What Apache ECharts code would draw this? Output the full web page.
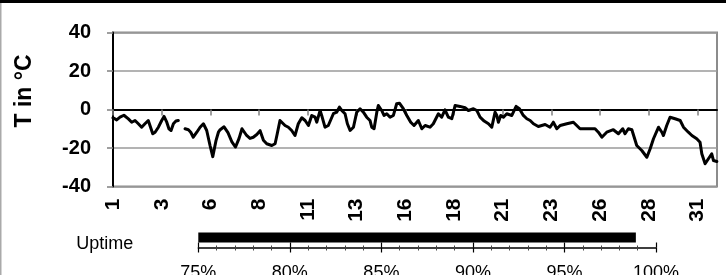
<!DOCTYPE html>
<html>
<head>
<meta charset="utf-8">
<script src="https://cdn.jsdelivr.net/npm/echarts@6/dist/echarts.min.js"></script>
<style>
html, body { margin: 0; padding: 0; background: #fff; }
#chart { width: 726px; height: 275px; }
</style>
</head>
<body>
<div id="chart"></div>
<script>
// day-of-month labels shown every 2.5 days
var dayTicks = ['1', '3', '6', '8', '11', '13', '16', '18', '21', '23', '26', '28', '31']
// elapsed days since the 1st, and temperature (null = gap)
var dayPos = [0, 0.19, 0.36, 0.56, 0.79, 0.96, 1.13, 1.30, 1.47, 1.64, 1.81, 2.04, 2.16, 2.33, 2.50, 2.62, 2.76, 2.87, 2.98, 3.10,
    3.23, 3.35, 3.52, 3.70, 3.87, 3.99, 4.12, 4.30, 4.47, 4.64, 4.81, 4.98, 5.12, 5.29, 5.41, 5.50, 5.70, 5.90, 6.11, 6.29,
    6.47, 6.62, 6.86, 7.03, 7.20, 7.38, 7.55, 7.72, 7.89, 8.15, 8.32, 8.43, 8.57, 8.66, 8.83, 9.00, 9.17, 9.34, 9.51, 9.69,
    9.86, 10.03, 10.20, 10.37, 10.46, 10.63, 10.71, 10.88, 11.05, 11.31, 11.48, 11.62, 11.74, 11.91, 12.03, 12.17, 12.34, 12.51, 12.68, 12.85,
    13.02, 13.19, 13.28, 13.40, 13.54, 13.62, 13.79, 13.91, 14.05, 14.22, 14.39, 14.56, 14.70, 14.90, 15.08, 15.28, 15.45, 15.67, 15.85, 16.02,
    16.27, 16.44, 16.70, 16.87, 17.04, 17.21, 17.39, 17.56, 17.81, 18.07, 18.24, 18.50, 18.67, 18.84, 19.05, 19.27, 19.44, 19.61, 19.70, 19.78,
    19.90, 20.04, 20.21, 20.47, 20.69, 20.86, 21.06, 21.24, 21.41, 21.58, 21.83, 22.18, 22.43, 22.60, 22.78, 22.95, 23.29, 23.63, 23.97, 24.32,
    24.74, 24.91, 25.09, 25.34, 25.68, 25.94, 26.16, 26.28, 26.45, 26.63, 26.75, 26.88, 27.14, 27.40, 27.57, 27.74, 28.00, 28.17, 28.25, 28.42,
    28.59, 28.85, 29.11, 29.28, 29.53, 29.71, 29.96, 30.13, 30.22, 30.39, 30.56, 30.73, 30.82, 30.99]
var tempC = [-4.3, -5.4, -4, -3, -4.9, -6.6, -5.7, -7.4, -9.2, -7.4, -5.7, -12.6, -11.8, -9.2, -5.7, -3.6, -6.6, -10, -10.9, -7.4,
    -6, -5.7, null, -10, -10.5, -11.8, -14.4, -11.8, -9.2, -7.4, -10.9, -18.7, -24.5, -16, -11.8, -10.5, -9, -12, -17, -19.5,
    -15, -10, -13.5, -15, -14.4, -13, -11, -16, -17.8, -18.7, -17.8, -12.6, -5.7, -4.8, -8.3, -9.2, -10.9, -13.5, -7.4, -4.3,
    -5.7, -8.3, -3.1, -4, -6.6, -0.5, -3.1, -9.2, -8.3, -2.2, -1.4, 1.2, -0.5, -2.2, -7.4, -10.9, -9.2, -1.4, 0.4, -1.4,
    -4, -5.7, -9.2, -10, -1.4, 2.1, -0.5, -3.1, -2.2, -4, -3.1, 3, 3.3, 0.4, -3.1, -6.6, -8.3, -5.7, -10, -8.3,
    -9.2, -7.4, -2.2, -4, -0.2, -4, -4.8, 2.1, 1.6, 0.9, -0.5, 0.4, -0.5, -4, -6, -7.4, -9.2, -1.4, -3.1, -6.6,
    -3.1, -4, -2.2, -3.1, 1.6, 0.4, -3.1, -4.8, -5.7, -7.4, -8.8, -7.8, -9.2, -6.6, -10, -8.3, -7.4, -6.6, -10, -10,
    -10, -11.8, -14.4, -11.8, -10.5, -12.6, -10, -12.6, -10, -10.5, -14.4, -18.7, -21.3, -24.8, -20.4, -15.2, -9.2, -11.8, -13.5, -8.3,
    -4, -4.8, -5.7, -9.2, -11.8, -13.5, -15.2, -17, -23, -28.2, -25.6, -23, -26.5, -27]
var tempTicks = [-40, -20, 0, 20, 40]
var uptimeLabel = ['Uptime']
var uptimeValue = [98.9]

var FONT = '"Liberation Sans", Arial, sans-serif'
var dom = document.getElementById('chart')
var chart = echarts.init(dom, null, { renderer: 'canvas' })

var linePoints = dayPos.map(function (d, i) { return [d, tempC[i]] })
var dayTickPos = dayTicks.map(function (t, i) { return i * 2.5 })

var option = {
    backgroundColor: '#fff',
    animation: false,
    graphic: [
        { type: 'rect', shape: { x: 0, y: 0, width: 726, height: 3 }, style: { fill: '#000' } },
        { type: 'rect', shape: { x: 0, y: 3, width: 1.5, height: 272 }, style: { fill: '#aaa' } },
        {
            type: 'text', x: 25, y: 91, rotation: Math.PI / 2,
            style: { text: 'T in °C', font: 'bold 23px ' + FONT, fill: '#000', align: 'center', verticalAlign: 'middle' }
        }
    ],
    grid: [
        { left: 113, top: 32.5, right: 9, bottom: 88.5, outerBoundsMode: 'none', show: true, borderColor: '#8c8c8c', borderWidth: 2, backgroundColor: 'transparent' },
        { left: 198.3, right: 70, top: 227.5, height: 20, outerBoundsMode: 'none' }
    ],
    xAxis: [
        {
            gridIndex: 0, type: 'value', min: 0, max: 31, position: 'bottom',
            axisLine: { lineStyle: { color: '#000', width: 2 } },
            axisTick: { customValues: dayTickPos, length: 6, lineStyle: { color: '#808080', width: 1.5 } },
            axisLabel: {
                customValues: dayTickPos, rotate: 90, margin: 12,
                fontFamily: FONT, fontWeight: 'bold', fontSize: 21, color: '#000',
                formatter: function (v) { return dayTicks[Math.round(v / 2.5)] }
            },
            splitLine: { show: false }
        },
        {
            gridIndex: 1, type: 'value', min: 75, max: 100, interval: 5, position: 'bottom',
            axisLine: { show: true, onZero: false, lineStyle: { color: '#000', width: 1.5 } },
            axisTick: { show: true, length: 5, lineStyle: { color: '#000', width: 1.2 } },
            minorTick: { show: true, splitNumber: 5, length: 3, lineStyle: { color: '#444', width: 1 } },
            axisLabel: { margin: 17, fontFamily: FONT, fontSize: 18, color: '#000', formatter: '{value}%' },
            splitLine: { show: false }
        },
        {
            gridIndex: 1, type: 'value', min: 75, max: 100, interval: 5, position: 'bottom',
            axisLine: { show: false, onZero: false },
            axisTick: { show: true, inside: true, length: 5, lineStyle: { color: '#000', width: 1.2 } },
            minorTick: { show: true, splitNumber: 5, length: 2, lineStyle: { color: '#444', width: 1 } },
            axisLabel: { show: false },
            splitLine: { show: false }
        }
    ],
    yAxis: [
        {
            gridIndex: 0, type: 'value', min: tempTicks[0], max: tempTicks[tempTicks.length - 1], interval: 20,
            axisLine: { show: true, lineStyle: { color: '#000', width: 2 } },
            axisTick: { show: true, length: 6, lineStyle: { color: '#808080', width: 1.5 } },
            axisLabel: { margin: 22, fontFamily: FONT, fontWeight: 'bold', fontSize: 20, color: '#000' },
            splitLine: { show: true, lineStyle: { color: '#9a9a9a', width: 1.5 } }
        },
        {
            gridIndex: 1, type: 'category', data: uptimeLabel,
            axisLine: { show: false }, axisTick: { show: false },
            axisLabel: { margin: 65, fontFamily: FONT, fontSize: 18, color: '#000', verticalAlign: 'top', lineHeight: 14 }
        }
    ],
    series: [
        {
            type: 'line', xAxisIndex: 0, yAxisIndex: 0, data: linePoints,
            showSymbol: false, connectNulls: false,
            lineStyle: { color: '#000', width: 3, join: 'round', cap: 'round' }
        },
        {
            type: 'bar', xAxisIndex: 1, yAxisIndex: 1, data: uptimeValue,
            barWidth: 10, clip: true, itemStyle: { color: '#000' }
        }
    ]
}
chart.setOption(option)
</script>
</body>
</html>
